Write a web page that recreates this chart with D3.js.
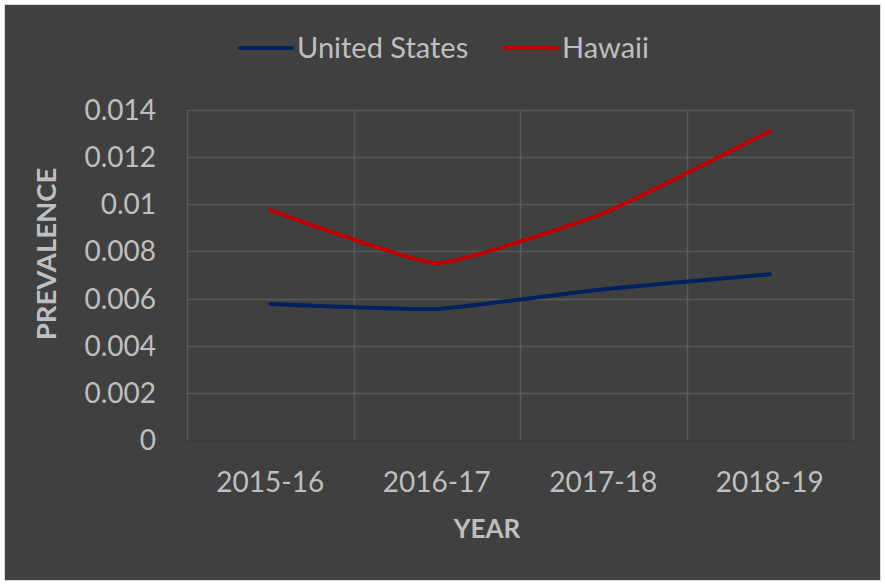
<!DOCTYPE html>
<html>
<head>
<meta charset="utf-8">
<script src="https://cdn.jsdelivr.net/npm/d3@7"></script>
<style>
  body { margin: 0; background: #fff; }
  text { font-family: Lato, "Open Sans", sans-serif; fill: #bfbfbf; }
</style>
</head>
<body>
<div id="chart"></div>
<script>
// data
var years = ["2015-16", "2016-17", "2017-18", "2018-19"];
var usValues = [0.00577, 0.00556, 0.0064, 0.00703];
var hawaiiValues = [0.00975, 0.0075, 0.00962, 0.0131];
var yTicks = [0, 0.002, 0.004, 0.006, 0.008, 0.01, 0.012, 0.014];
var seriesNames = ["United States", "Hawaii"];
var seriesColors = ["#002060", "#c00000"];

var width = 885, height = 585;
var plot = { left: 187, right: 853, top: 110, bottom: 440 };

var svg = d3.select("#chart").append("svg")
    .attr("width", width)
    .attr("height", height);

// frame
svg.append("rect")
    .attr("x", 4.5).attr("y", 4.5)
    .attr("width", width - 9).attr("height", height - 9)
    .attr("fill", "#404040")
    .attr("stroke", "#d9d9d9")
    .attr("stroke-width", 1);

var x = d3.scaleBand()
    .domain(years)
    .range([plot.left, plot.right]);

var y = d3.scaleLinear()
    .domain([0, 0.014])
    .range([plot.bottom, plot.top]);

// horizontal gridlines
svg.append("g")
    .selectAll("line")
    .data(yTicks.filter(d => d > 0))
    .enter().append("line")
    .attr("x1", plot.left).attr("x2", plot.right)
    .attr("y1", d => Math.round(y(d)) + 0.5)
    .attr("y2", d => Math.round(y(d)) + 0.5)
    .attr("stroke", "#595959")
    .attr("stroke-width", 1.5);

// vertical gridlines at category boundaries
var bounds = years.map(d => x(d)).concat([plot.right]);
svg.append("g")
    .selectAll("line")
    .data(bounds)
    .enter().append("line")
    .attr("x1", d => Math.round(d) + 0.5).attr("x2", d => Math.round(d) + 0.5)
    .attr("y1", plot.top).attr("y2", plot.bottom)
    .attr("stroke", "#595959")
    .attr("stroke-width", 1.5);

// baseline
svg.append("line")
    .attr("x1", plot.left).attr("x2", plot.right)
    .attr("y1", y(0) + 0.5).attr("y2", y(0) + 0.5)
    .attr("stroke", "#3a3a3a")
    .attr("stroke-width", 1.5);

// y tick labels
svg.append("g")
    .selectAll("text")
    .data(yTicks)
    .enter().append("text")
    .attr("x", 156)
    .attr("y", d => y(d) + 10)
    .attr("text-anchor", "end")
    .attr("font-size", 28)
    .text(d => d3.format("")(+d.toFixed(3)));

// x tick labels
svg.append("g")
    .selectAll("text")
    .data(years)
    .enter().append("text")
    .attr("x", d => x(d) + x.bandwidth() / 2)
    .attr("y", 492)
    .attr("text-anchor", "middle")
    .attr("font-size", 28)
    .text(d => d);

// axis titles
svg.append("text")
    .attr("x", 487).attr("y", 538)
    .attr("text-anchor", "middle")
    .attr("font-size", 26)
    .attr("font-weight", "bold")
    .text("YEAR");

svg.append("text")
    .attr("transform", "translate(56,254) rotate(-90)")
    .attr("text-anchor", "middle")
    .attr("font-size", 27.5)
    .attr("font-weight", "bold")
    .text("PREVALENCE");

// lines (excel smoothed lines, fairly tight)
var line = d3.line()
    .x((d, i) => x(years[i]) + x.bandwidth() / 2)
    .y(d => y(d))
    .curve(d3.curveCardinal.tension(0.6));

[usValues, hawaiiValues].forEach(function (vals, i) {
    svg.append("path")
        .datum(vals)
        .attr("d", line)
        .attr("fill", "none")
        .attr("stroke", seriesColors[i])
        .attr("stroke-width", 4)
        .attr("stroke-linecap", "round")
        .attr("stroke-linejoin", "round");
});

// legend
var legendX = [238, 503];
var legend = svg.append("g")
    .selectAll("g")
    .data(seriesNames)
    .enter().append("g")
    .attr("transform", (d, i) => "translate(" + legendX[i] + ",48)");

legend.append("line")
    .attr("x1", 2).attr("x2", 54)
    .attr("y1", 0).attr("y2", 0)
    .attr("stroke", (d, i) => seriesColors[i])
    .attr("stroke-width", 4)
    .attr("stroke-linecap", "round");

legend.append("text")
    .attr("x", 59)
    .attr("y", 10)
    .attr("font-size", 29)
    .text(d => d);
</script>
</body>
</html>
